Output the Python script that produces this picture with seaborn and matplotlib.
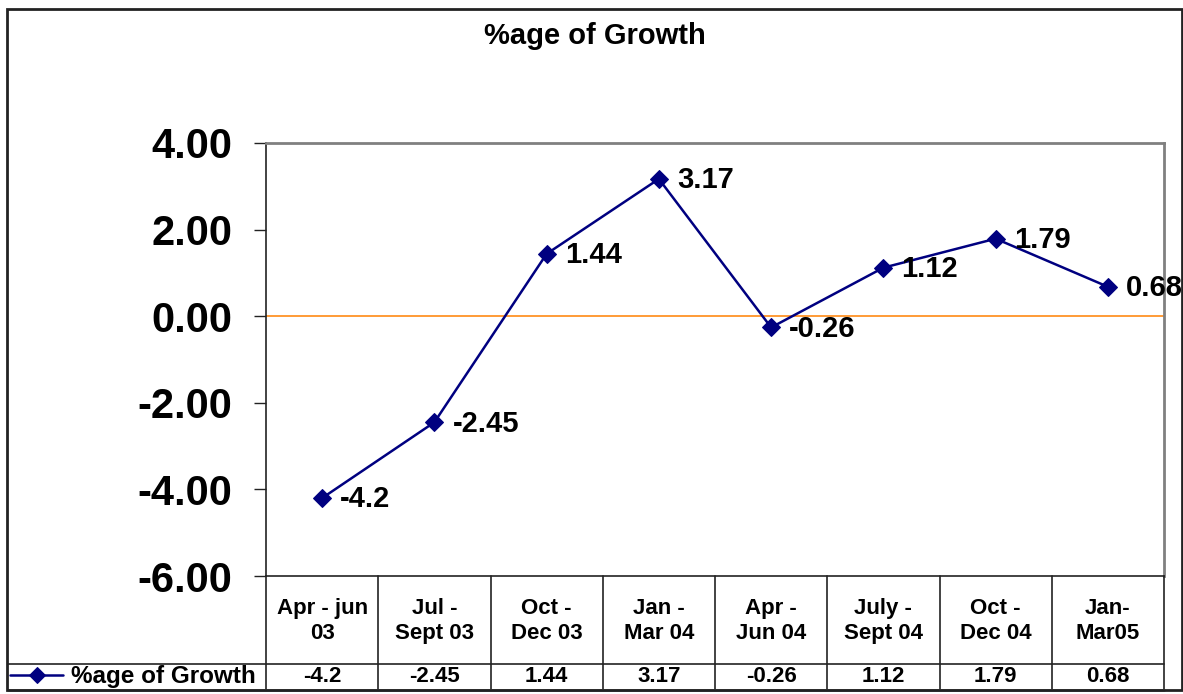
import numpy as np
import pandas as pd
import seaborn as sns
import matplotlib
matplotlib.use("Agg")
from matplotlib import pyplot as plt
from matplotlib.patches import Rectangle

# data
quarters = ["Apr - jun\n03", "Jul -\nSept 03", "Oct -\nDec 03", "Jan -\nMar 04",
            "Apr -\nJun 04", "July -\nSept 04", "Oct -\nDec 04", "Jan-\nMar05"]
growth = [-4.2, -2.45, 1.44, 3.17, -0.26, 1.12, 1.79, 0.68]
series_name = "%age of Growth"
yticks = [-6, -4, -2, 0, 2, 4]

sns.set_theme(style="white")
plt.rcParams["font.family"] = ["Liberation Sans", "DejaVu Sans"]
plt.rcParams["font.weight"] = "bold"
plt.rcParams["text.color"] = "black"
plt.rcParams["ytick.color"] = "black"

W, H = 1183, 694
fig = plt.figure(figsize=(W / 100, H / 100), dpi=100)

# plot area (pixel layout)
left, right, top, bottom = 266, 1164, 143, 576
ax = fig.add_axes([left / W, 1 - bottom / H, (right - left) / W, (bottom - top) / H])

df = pd.DataFrame({"pos": np.arange(len(growth)), "val": growth})
ax.axhline(0, color="#FF8000", lw=1.1, zorder=1)
sns.lineplot(data=df, x="pos", y="val", ax=ax, color="#000080", lw=1.8,
             marker="D", markersize=9, markeredgecolor="#000080",
             label=series_name, zorder=3)

for i, v in enumerate(growth):
    ax.annotate(str(v), (i, v), xytext=(13, -1), textcoords="offset points",
                va="center", ha="left", fontsize=21, fontweight="bold",
                color="black", annotation_clip=False, clip_on=False)

ax.set_xlim(-0.5, len(growth) - 0.5)
ax.set_ylim(-6, 4)
ax.set_yticks(yticks)
ax.set_yticklabels([f"{t:.2f}" for t in yticks], fontsize=30,
                   fontweight="bold", color="black")
ax.set_xticks([])
ax.set_xlabel("")
ax.set_ylabel("")
ax.tick_params(axis="y", left=True, direction="out", length=9, width=1,
               color="#222222", pad=15)
ax.spines["left"].set_color("#222222")
ax.spines["left"].set_linewidth(1.2)
ax.spines["bottom"].set_color("#222222")
ax.spines["bottom"].set_linewidth(1.2)
for s in ["top", "right"]:
    ax.spines[s].set_color("#808080")
    ax.spines[s].set_linewidth(2)

# legend inside the data table's first cell
leg = ax.legend(loc="center left", bbox_to_anchor=(10 / W, 1 - 677 / H),
                bbox_transform=fig.transFigure, frameon=False, handlelength=2.2,
                handletextpad=0.3, borderpad=0, borderaxespad=0,
                prop={"size": 17.5, "weight": "bold"})
for t in leg.get_texts():
    t.set_color("black")
for h in leg.legend_handles:
    h.set_markersize(8)

# data table under the chart
col_w = (right - left) / len(growth)
tab = fig.add_axes([8 / W, 1 - 690 / H, (right - 8) / W, (690 - bottom) / H])
tab.set_xlim(-0.5 - (left - 8) / col_w, len(growth) - 0.5)
tab.set_ylim(690, bottom)
tab.axis("off")
row_y = 664
for k in range(len(growth) + 1):
    tab.plot([k - 0.5, k - 0.5], [bottom, 690], color="#222222", lw=1.2,
             clip_on=False)
tab.plot(tab.get_xlim(), [row_y, row_y], color="#222222", lw=1.2, clip_on=False)
tab.plot(tab.get_xlim(), [690, 690], color="#808080", lw=2, clip_on=False)
for i, (q, v) in enumerate(zip(quarters, growth)):
    tab.text(i, (bottom + row_y) / 2 + 1, q, ha="center", va="center",
             fontsize=16, fontweight="bold", linespacing=1.3, color="black")
    tab.text(i, (row_y + 690) / 2, str(v), ha="center", va="center",
             fontsize=16, fontweight="bold", color="black")

fig.text(595 / W, 1 - 44 / H, series_name, ha="center", va="baseline",
         fontsize=21, fontweight="bold", color="black")

# outer chart border
fig.patches.append(Rectangle((7 / W, 1 - 690 / H), 1175 / W, 681 / H,
                             transform=fig.transFigure, fill=False,
                             edgecolor="#222222", lw=2))

fig.savefig("out.png", dpi=100)
